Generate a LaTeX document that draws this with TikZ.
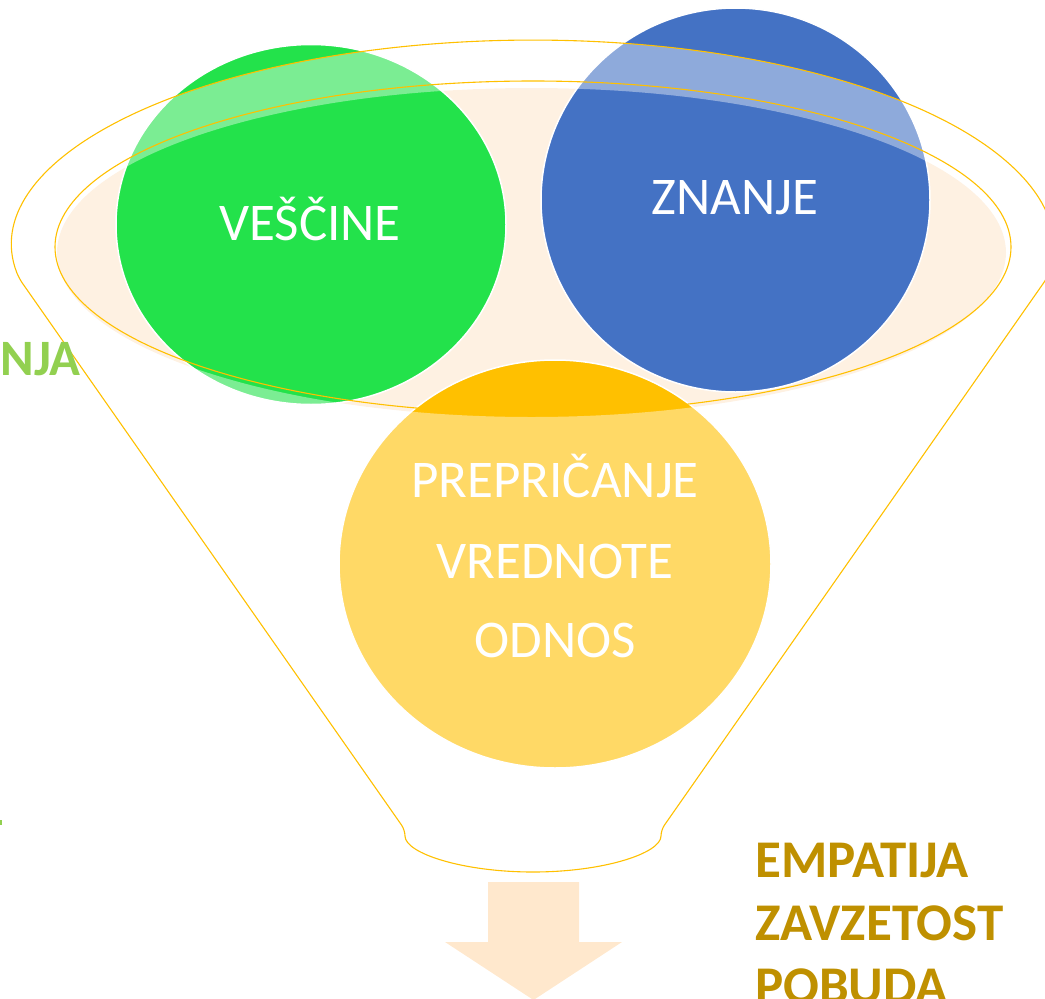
\documentclass[tikz,border=0pt]{standalone}
\usepackage{fontspec}
\setmainfont{Carlito}
\usetikzlibrary{shapes.geometric}
\definecolor{cgreen}{HTML}{23E24B}
\definecolor{cblue}{HTML}{4472C4}
\definecolor{cyellow}{HTML}{FFC000}
\definecolor{ccream}{HTML}{FEF1E2}
\definecolor{cpeach}{HTML}{FFE8CD}
\definecolor{cstroke}{HTML}{FFC000}
\definecolor{clime}{HTML}{92D050}
\definecolor{cgold}{HTML}{BF9000}
\tikzset{
  circ/.style={ellipse, draw=white, line width=1.5pt, inner sep=0pt},
  lbl/.style={text=white, font=\fontsize{53}{60}\selectfont, inner sep=0pt, anchor=base},
  boldlbl/.style={text=cgold, font=\fontsize{53}{60}\selectfont\bfseries, inner sep=0pt, anchor=base west},
  funnelline/.style={draw=cstroke, line width=1.1pt},
}
\begin{document}
\begin{tikzpicture}[x=1pt,y=1pt]
\useasboundingbox (0,0) rectangle (1045,-999);
\clip (0,0) rectangle (1045,-999);
% cream opening of the funnel
\fill[ccream] (531.5,-252.5) ellipse[x radius=474.5, y radius=164.5];
% circles
\node[circ, fill=cgreen, minimum width=390pt, minimum height=360pt] (vescine) at (311,-224.5) {};
\node[circ, fill=cblue, minimum width=389pt, minimum height=384pt] (znanje) at (735.5,-200) {};
\node[circ, fill=cyellow, minimum width=432pt, minimum height=408pt] (preprican) at (555,-564) {};
% semi-transparent funnel body with the opening left clear
\fill[white, fill opacity=0.4, even odd rule]
  (18.8,-278) arc[start angle=188.6, end angle=-8.6, x radius=520, y radius=207]
  -- (661,-830) arc[start angle=0, end angle=-180, x radius=128, y radius=42]
  -- cycle
  (531.5,-252.5) ellipse[x radius=474.5, y radius=164.5];
% funnel outline
\draw[funnelline, rounded corners=6pt]
  (18.8,-278) arc[start angle=188.6, end angle=-8.6, x radius=520, y radius=207]
  -- (661,-830) arc[start angle=0, end angle=-180, x radius=128, y radius=42]
  -- cycle;
\draw[funnelline] (533,-247) ellipse[x radius=478, y radius=166];
% circle labels
\node[lbl] (tves) at (310,-240) {VEŠČINE};
\node[lbl] (tzna) at (735,-214) {ZNANJE};
\node[lbl] (ty1) at (555,-497) {PREPRIČANJE};
\node[lbl] (ty2) at (555,-578) {VREDNOTE};
\node[lbl] (ty3) at (555,-657) {ODNOS};
% arrow below the funnel
\fill[cpeach] (488,-882) -- (579,-882) -- (579,-942) -- (622,-942) -- (533.5,-1000) -- (445,-942) -- (488,-942) -- cycle;
% side texts
\node[text=clime, font=\fontsize{51}{60}\selectfont\bfseries, inner sep=0pt, anchor=base east] (tnja) at (81,-375) {NJA};
\fill[clime] (0,-820) rectangle (1.5,-825);
\node[boldlbl] (te1) at (755,-877) {EMPATIJA};
\node[boldlbl] (te2) at (755,-940) {ZAVZETOST};
\node[boldlbl] (te3) at (755,-1003) {POBUDA};
\end{tikzpicture}
\end{document}
